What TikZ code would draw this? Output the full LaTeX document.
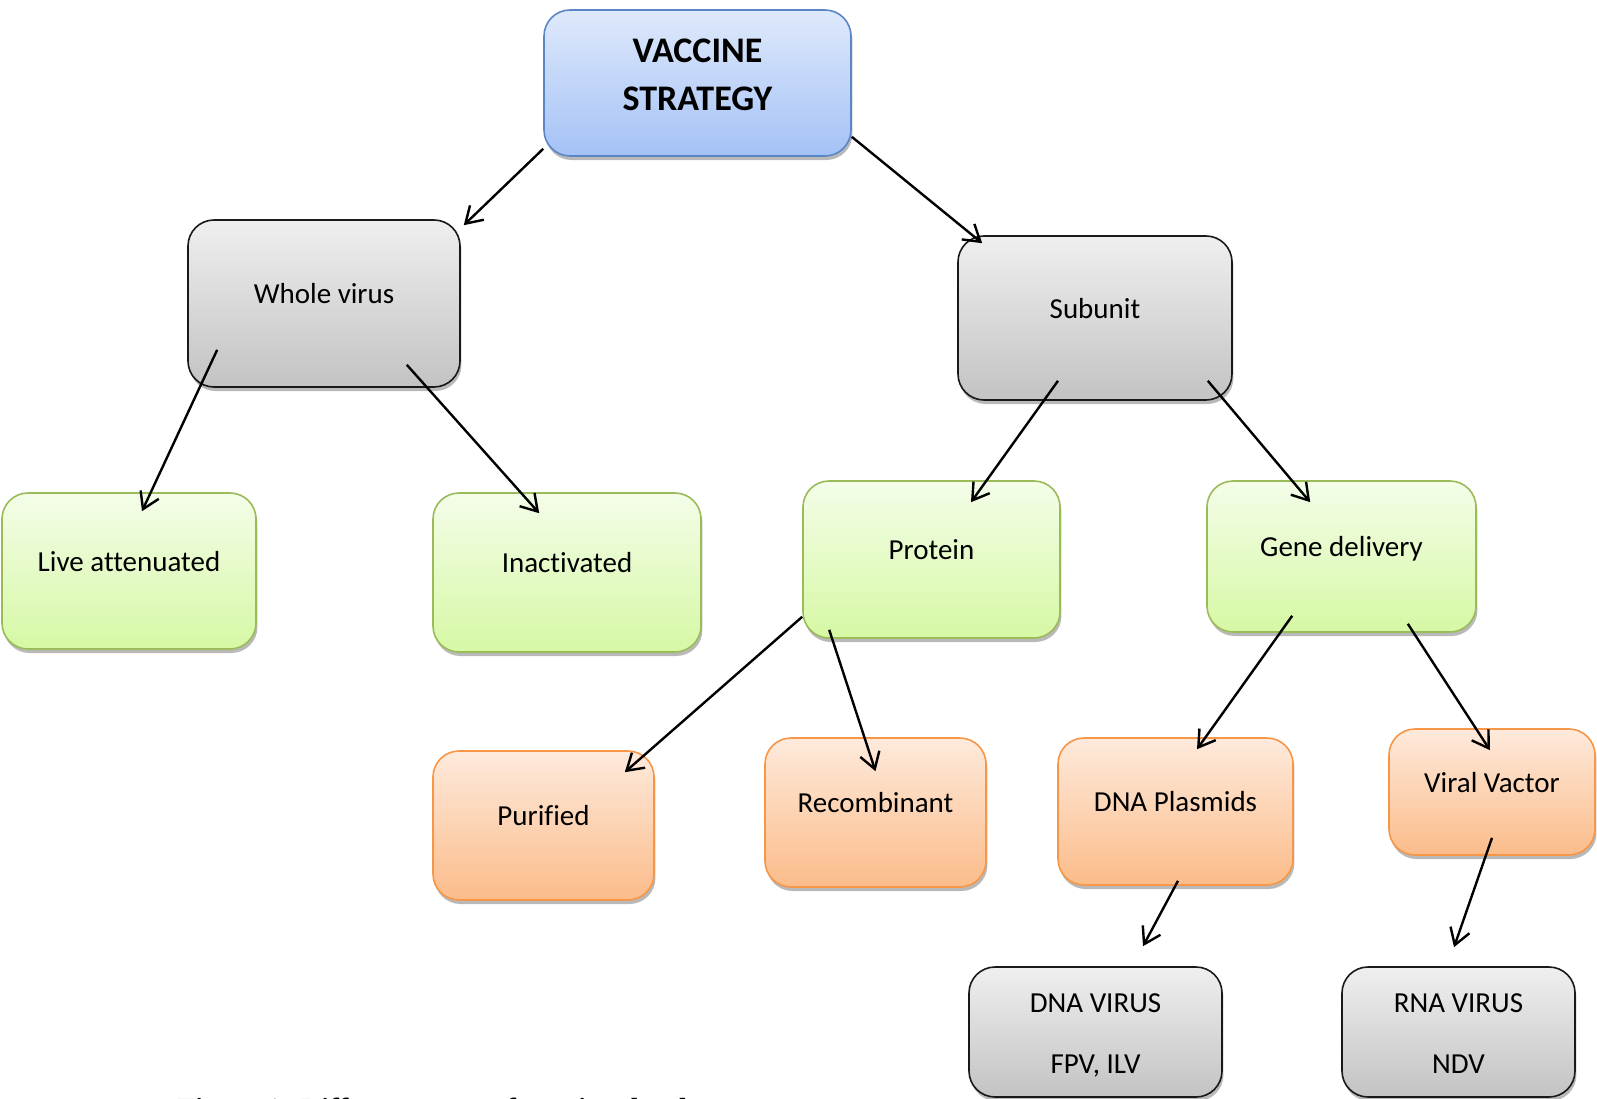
\documentclass[tikz,border=0pt]{standalone}
\usepackage{fontspec}
\setmainfont{Carlito}[Ligatures=NoCommon]
\newfontfamily\capfont{Liberation Serif}
\usetikzlibrary{arrows.meta,shadows,calc}
\definecolor{bluetop}{HTML}{DFE9FB}
\definecolor{bluebot}{HTML}{A4C2F6}
\definecolor{blueline}{HTML}{5A86C6}
\definecolor{greytop}{HTML}{EFEFEF}
\definecolor{greybot}{HTML}{C3C3C3}
\definecolor{greentop}{HTML}{F4FDE9}
\definecolor{greenbot}{HTML}{D6F8A4}
\definecolor{greenline}{HTML}{9BBB59}
\definecolor{orangetop}{HTML}{FEEADC}
\definecolor{orangebot}{HTML}{FBBC8A}
\definecolor{orangeline}{HTML}{F79646}
\tikzset{
  box/.style={rounded corners=19.5pt, line width=1.2pt, inner sep=0pt,
    drop shadow={shadow xshift=1.1pt, shadow yshift=-3pt, fill=black!50, opacity=0.55},
    font={\fontsize{21.75pt}{26pt}\selectfont}},
  oneline/.style={text height=14pt, text depth=14pt},
  twoline/.style={align=center, font={\fontsize{21.75pt}{45.75pt}\selectfont}},
  bluebox/.style={box, draw=blueline, top color=bluetop, bottom color=bluebot},
  greybox/.style={box, draw=black!90, top color=greytop, bottom color=greybot},
  greenbox/.style={box, draw=greenline, top color=greentop, bottom color=greenbot},
  orangebox/.style={box, draw=orangeline, top color=orangetop, bottom color=orangebot},
  arr/.style={line width=1.8pt, -{Straight Barb[length=12pt, width=15pt, line width=1.8pt]}},
}
\begin{document}
\begin{tikzpicture}[x=0.75pt, y=-0.75pt]
\useasboundingbox (0,0) rectangle (1597,1099);

\node[bluebox, minimum width=230.25pt, minimum height=109.5pt, align=center,
  font={\bfseries\fontsize{27pt}{36pt}\selectfont}] (vs) at (697.5,83)
  {VACCINE\\STRATEGY\rule[-12.75pt]{0pt}{12.75pt}};

\node[greybox, oneline, minimum width=204pt, minimum height=125.25pt] (whole) at (324,303.5) {Whole virus};
\node[greybox, oneline, minimum width=205.5pt, minimum height=123pt] (subunit) at (1095,318) {Subunit};

\node[greenbox, oneline, minimum width=190.5pt, minimum height=117pt] (live) at (129,571) {Live attenuated};
\node[greenbox, oneline, minimum width=201pt, minimum height=119.25pt] (inact) at (567,572.5) {Inactivated};
\node[greenbox, oneline, minimum width=192.75pt, minimum height=117.75pt] (protein) at (931.5,559.5) {Protein};
\node[greenbox, oneline, minimum width=201.75pt, minimum height=113.25pt] (gene) at (1341.5,556.5) {Gene delivery};

\node[orangebox, oneline, minimum width=165.75pt, minimum height=111.75pt] (purified) at (543.5,825.5) {Purified};
\node[orangebox, oneline, minimum width=165.75pt, minimum height=111.75pt] (recomb) at (875.5,812.5) {Recombinant};
\node[orangebox, oneline, minimum width=176.25pt, minimum height=110.25pt] (dnap) at (1175.5,811.5) {DNA Plasmids};
\node[orangebox, oneline, minimum width=154.5pt, minimum height=94.5pt] (viral) at (1492,792) {Viral Vactor};

\node[greybox, twoline, minimum width=189.75pt, minimum height=97.5pt] (dnav) at (1095.5,1032)
  {\rule{0pt}{22.5pt}DNA VIRUS\\FPV, ILV\rule[-6.75pt]{0pt}{6.75pt}};
\node[greybox, twoline, minimum width=174.75pt, minimum height=97.5pt] (rnav) at (1458.5,1032)
  {\rule{0pt}{22.5pt}RNA VIRUS\\NDV\rule[-6.75pt]{0pt}{6.75pt}};

\draw[arr] ($(vs.south west)+(0,-8)$) -- ($(whole.north east)+(3,6)$);
\draw[arr] ($(vs.south east)+(0,-20)$) -- ($(subunit.north west)+(25,8)$);
\draw[arr] ($(whole.south west)+(30,-38)$) -- ($(live.north)+(13,19)$);
\draw[arr] ($(whole.south east)+(-54,-23)$) -- ($(inact.north west)+(107,21)$);
\draw[arr] ($(subunit.south)+(-37,-20)$) -- ($(protein.north)+(39.5,22)$);
\draw[arr] ($(subunit.south east)+(-25,-20)$) -- ($(gene.north west)+(104,22)$);
\draw[arr] ($(protein.south west)+(0,-22)$) -- ($(purified.north east)+(-30,22)$);
\draw[arr] ($(protein.south west)+(27,-9)$) -- ($(recomb.north)+(0,34)$);
\draw[arr] ($(gene.south west)+(86,-17)$) -- ($(dnap.north)+(21.5,12)$);
\draw[arr] ($(gene.south east)+(-69,-9)$) -- ($(viral.north)+(-2,22)$);
\draw[arr] ($(dnap.south)+(2.5,-5)$) -- ($(dnav.north)+(47.5,-20)$);
\draw[arr] ($(viral.south)+(0,-18)$) -- ($(rnav.north)+(-4.5,-19)$);

\node[anchor=base west, inner sep=0pt, font={\capfont\bfseries\fontsize{21.8pt}{26pt}\selectfont}] (cap) at (177,1118)
  {Figure 1: Different types of vaccine development};
\end{tikzpicture}
\end{document}
